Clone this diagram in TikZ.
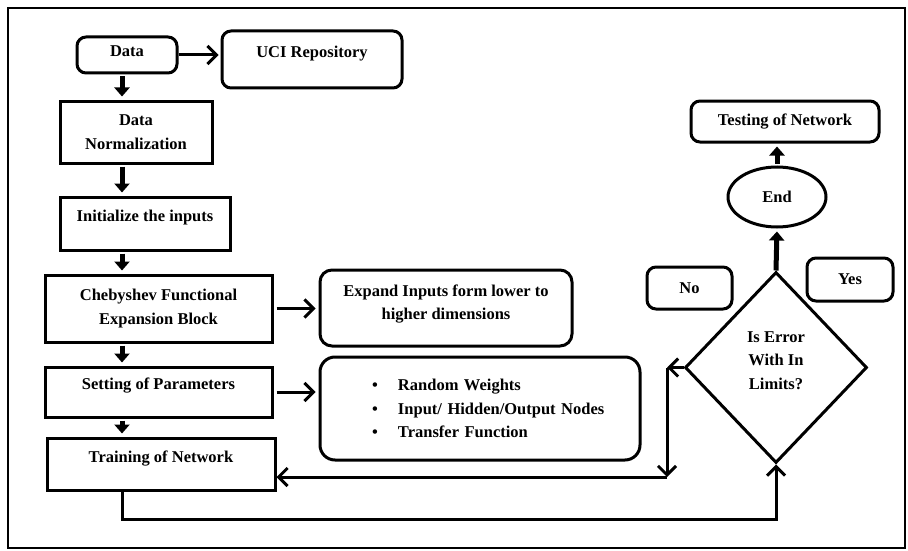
\documentclass[tikz,border=0pt]{standalone}
\usepackage{fontspec}
\setmainfont{Liberation Serif}
\usepackage{tikz}
\usetikzlibrary{shapes,arrows.meta}
\tikzstyle{blockSQ} = [rectangle, draw, line width=3pt, align=center, inner sep=0pt]
\tikzstyle{blockRC} = [blockSQ, rounded corners=9pt]
\tikzstyle{decisionWH} = [diamond, draw, line width=3pt, align=center, inner sep=0pt]
\tikzstyle{endWH} = [ellipse, draw, line width=3pt, inner sep=0pt]
\tikzstyle{line} = [draw, line width=3pt, -{Straight Barb[length=9pt,width=18pt]}]
\tikzstyle{lineDN} = [draw, line width=5pt, -{Triangle[length=9pt,width=15pt]}, shorten <=2pt, shorten >=3pt]

\begin{document}
\begin{tikzpicture}[x=1pt, y=-1pt,
  % todo el texto en negrita, tipo Times
  font=\fontsize{16.5}{23.5}\selectfont\bfseries
  ]
  \useasboundingbox (0,0) rectangle (908,551);
  \draw[line width=2.5pt] (8,8) rectangle (905,548);

    % nodes
    \node [blockRC, minimum width=100pt, minimum height=36pt, text depth=7pt] (data) at (127,55) {Data};
    \node [blockRC, minimum width=180pt, minimum height=57pt, text depth=15pt] (uci) at (312,59.5) {UCI Repository};
    \node [blockSQ, minimum width=152pt, minimum height=62pt] (norm) at (136,132) {Data\\Normalization};
    \node [blockSQ, minimum width=170pt, minimum height=53pt, text depth=15pt] (init) at (145,223.5) {Initialize the inputs};
    \node [blockSQ, minimum width=227pt, minimum height=67pt] (cheb) at (158.5,308.5) {Chebyshev Functional\\Expansion Block};
    \node [blockRC, rounded corners=12pt, minimum width=252pt, minimum height=76pt, text depth=12pt] (expand) at (446,308) {Expand Inputs form lower to\\higher dimensions};
    \node [blockSQ, minimum width=227pt, minimum height=50pt, text depth=16pt] (setting) at (158.5,392) {Setting of Parameters};
    \node [blockRC, rounded corners=15pt, minimum width=320pt, minimum height=103pt, text width=320pt, align=left] (params) at (480,408.5)
      {\hspace*{52pt}\makebox[26pt][l]{\textbullet}Random Weights\\
       \hspace*{52pt}\makebox[26pt][l]{\textbullet}Input/ Hidden/Output Nodes\\
       \hspace*{52pt}\makebox[26pt][l]{\textbullet}Transfer Function};
    \node [blockSQ, minimum width=228pt, minimum height=52pt, text depth=15pt] (training) at (161,464) {Training of Network};
    \node [decisionWH, minimum width=182pt, minimum height=191pt, text depth=14pt] (check) at (776,367.5) {Is Error\\With In\\Limits?};
    \node [blockRC, minimum width=85pt, minimum height=42pt] (no) at (689.5,288) {No};
    \node [blockRC, minimum width=86pt, minimum height=43pt] (yes) at (850,279.5) {Yes};
    \node [endWH, minimum width=98pt, minimum height=60pt] (end) at (777,197) {End};
    \node [blockRC, minimum width=188pt, minimum height=41pt] (testing) at (785,121.5) {Testing of Network};

    \coordinate (spine) at (122,0);
    \coordinate (noTop) at (667,367.5);
    \coordinate (noBot) at (667,477);

    % edges
    \path [line, shorten >=2pt] (data.east) -- (data.east -| uci.west);
    \path [lineDN] (data.south -| spine) -- (norm.north -| spine);
    \path [lineDN] (norm.south -| spine) -- (init.north -| spine);
    \path [lineDN] (init.south -| spine) -- (cheb.north -| spine);
    \path [lineDN] (cheb.south -| spine) -- (setting.north -| spine);
    \path [lineDN] (setting.south -| spine) -- (training.north -| spine);
    \path [line, shorten >=3pt, shorten <=3pt] (cheb.east) -- (cheb.east -| expand.west);
    \path [line, shorten >=3pt, shorten <=3pt] (setting.east) -- (setting.east -| params.west);
    \path [line] (training.south -| spine) -- ++(0,28) -| (check.south);
    \path [line] (check.west) -- (noTop);
    \path [line] (noTop) -- (noBot);
    \path [line] (noBot) -- (noBot -| training.east);
    \path [lineDN, shorten <=0pt] (check.north) -- (end.south);
    \path [lineDN] (end.north) -- (end.north |- testing.south);

  \end{tikzpicture}
\end{document}
